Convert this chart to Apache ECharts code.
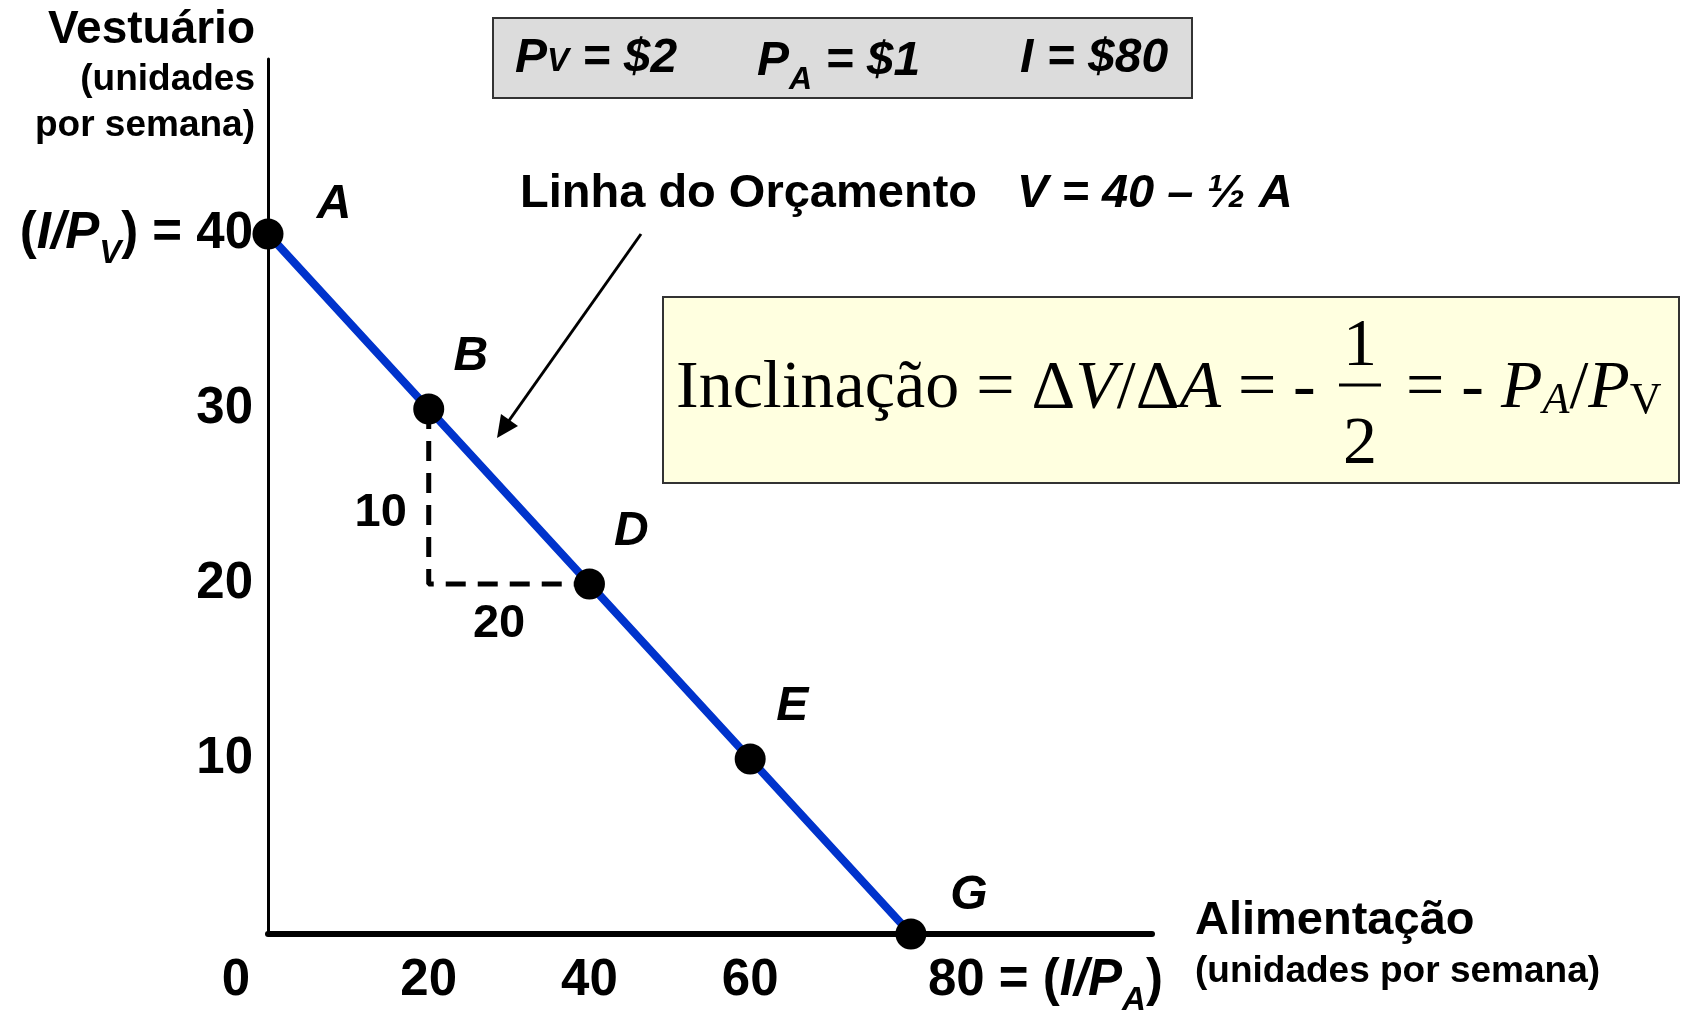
<!DOCTYPE html>
<html>
<head>
    <meta charset="utf-8"/>
    <script src="https://cdn.jsdelivr.net/npm/echarts@6.0.0/dist/echarts.min.js"></script>
    <style>html, body { margin: 0; padding: 0; background: #fff; }</style>
</head>
<body>
<div id="main" style="width: 1683px;height:1011px;"></div>
<script type="text/javascript">
    // pontos da linha do orçamento
    var pointNames = ['A', 'B', 'D', 'E', 'G'];
    var alimentacao = [0, 20, 40, 60, 80];
    var vestuario = [40, 30, 20, 10, 0];
    // triângulo tracejado (ΔV, ΔA)
    var triA = [20, 20, 40];
    var triV = [30, 20, 20];
    var deltaText = ['10', '20'];
    var deltaA = [20, 30];
    var deltaV = [25, 20];
    // ticks
    var xTicks = [0, 20, 40, 60, 80];
    var yTicks = [10, 20, 30, 40];

    var SANS = '"Liberation Sans", Arial, sans-serif';
    var SERIF = '"Liberation Serif", "Times New Roman", serif';

    var myChart = echarts.init(document.getElementById('main'));

    var labelOffset = {A: [66, -29], B: [42, -52], D: [42, -52], E: [42, -52], G: [58, -38]};
    var pointData = pointNames.map(function (n, i) {
        return {
            name: n, value: [alimentacao[i], vestuario[i]],
            label: {offset: labelOffset[n]}
        };
    });
    var lineData = alimentacao.map(function (a, i) { return [a, vestuario[i]]; });
    var triData = triA.map(function (a, i) { return [a, triV[i]]; });
    var deltaOffset = [[-48, 17], [-10, 40]];
    var deltaData = deltaText.map(function (t, i) {
        return {name: t, value: [deltaA[i], deltaV[i]], label: {offset: deltaOffset[i]}};
    });

    var tickRich = {
        n: {fontFamily: SANS, fontWeight: 'bold', fontSize: 51, color: '#000', lineHeight: 52, verticalAlign: 'top'},
        i: {fontFamily: SANS, fontWeight: 'bold', fontStyle: 'italic', fontSize: 51, color: '#000', lineHeight: 52, verticalAlign: 'top'},
        s: {fontFamily: SANS, fontWeight: 'bold', fontStyle: 'italic', fontSize: 33, color: '#000', lineHeight: 33, verticalAlign: 'top', padding: [29, 0, 0, 0]},
        g0: {width: 64, lineHeight: 52},
        g80: {width: 17, lineHeight: 52}
    };

    var option = {
        animation: false,
        backgroundColor: '#fff',
        grid: {left: 268, right: 531, top: 59, bottom: 77, outerBoundsMode: 'none'},
        xAxis: {
            type: 'value', min: 0, max: 110,
            axisLine: {show: true, lineStyle: {color: '#000', width: 6}},
            axisTick: {show: false},
            splitLine: {show: false},
            axisLabel: {
                customValues: xTicks,
                showMinLabel: true,
                showMaxLabel: true,
                alignMaxLabel: 'left',
                margin: 21,
                formatter: function (v) {
                    if (v === 0) return '{n|0}{g0| }';
                    if (v === 80) return '{g80| }{n|80 = (}{i|I/P}{s|A}{n|)}';
                    return '{n|' + v + '}';
                },
                rich: tickRich
            }
        },
        yAxis: {
            type: 'value', min: 0, max: 50,
            axisLine: {show: true, lineStyle: {color: '#000', width: 3}},
            axisTick: {show: false},
            splitLine: {show: false},
            axisLabel: {
                customValues: yTicks,
                showMaxLabel: true,
                margin: 15,
                formatter: function (v) {
                    if (v === 40) return '{n|(}{i|I/P}{s|V}{n|) = 40}';
                    return '{n|' + v + '}';
                },
                rich: tickRich
            }
        },
        series: [{
            type: 'line',
            data: triData,
            showSymbol: false,
            lineStyle: {color: '#000', width: 5, type: [20, 12]},
            z: 2
        }, {
            type: 'scatter',
            data: deltaData,
            symbolSize: 0,
            itemStyle: {opacity: 1},
            label: {
                show: true, position: 'inside', formatter: '{b}',
                fontFamily: SANS, fontWeight: 'bold', fontSize: 47, color: '#000'
            },
            z: 2
        }, {
            type: 'line',
            data: lineData,
            showSymbol: false,
            lineStyle: {color: '#0033cc', width: 8},
            z: 3
        }, {
            type: 'scatter',
            data: pointData,
            symbolSize: 31,
            itemStyle: {color: '#000', opacity: 1},
            label: {
                show: true, position: 'inside', formatter: '{b}',
                fontFamily: SANS, fontWeight: 'bold', fontStyle: 'italic', fontSize: 48, color: '#000'
            },
            z: 4
        }],
        graphic: [
            // nome do eixo vertical
            {type: 'text', x: 255, y: 30, style: {text: 'Vestuário', font: 'bold 46px ' + SANS, fill: '#000', align: 'right', verticalAlign: 'middle'}},
            {type: 'text', x: 255, y: 80, style: {text: '(unidades', font: 'bold 37px ' + SANS, fill: '#000', align: 'right', verticalAlign: 'middle'}},
            {type: 'text', x: 255, y: 126, style: {text: 'por semana)', font: 'bold 37px ' + SANS, fill: '#000', align: 'right', verticalAlign: 'middle'}},
            // nome do eixo horizontal
            {type: 'text', x: 1195, y: 921, style: {text: 'Alimentação', font: 'bold 47px ' + SANS, fill: '#000', align: 'left', verticalAlign: 'middle'}},
            {type: 'text', x: 1195, y: 972, style: {text: '(unidades por semana)', font: 'bold 37px ' + SANS, fill: '#000', align: 'left', verticalAlign: 'middle'}},
            // caixa de preços
            {type: 'rect', shape: {x: 493, y: 18, width: 699, height: 80}, style: {fill: '#dcdcdc', stroke: '#333', lineWidth: 2}},
            {type: 'text', x: 515, y: 59, style: {
                text: '{p|P}{v|V}{t| = $2}', align: 'left', verticalAlign: 'middle',
                rich: {
                    p: {font: 'italic bold 48px ' + SANS, fill: '#000', lineHeight: 48, verticalAlign: 'bottom'},
                    v: {font: 'italic bold 33px ' + SANS, fill: '#000', lineHeight: 33, verticalAlign: 'bottom', padding: [0, 0, 5, 0]},
                    t: {font: 'italic bold 48px ' + SANS, fill: '#000', lineHeight: 48, verticalAlign: 'bottom'}
                }
            }},
            {type: 'text', x: 757, y: 62, style: {
                text: '{p|P}{s|A}{t| = $1}', align: 'left', verticalAlign: 'middle',
                rich: {
                    p: {font: 'italic bold 48px ' + SANS, fill: '#000', lineHeight: 48, verticalAlign: 'top'},
                    s: {font: 'italic bold 32px ' + SANS, fill: '#000', lineHeight: 32, verticalAlign: 'top', padding: [26, 0, 0, 0]},
                    t: {font: 'italic bold 48px ' + SANS, fill: '#000', lineHeight: 48, verticalAlign: 'top'}
                }
            }},
            {type: 'text', x: 1020, y: 59, style: {text: 'I = $80', font: 'italic bold 48px ' + SANS, fill: '#000', align: 'left', verticalAlign: 'middle'}},
            // linha do orçamento
            {type: 'text', x: 520, y: 194, style: {text: 'Linha do Orçamento', font: 'bold 47px ' + SANS, fill: '#000', align: 'left', verticalAlign: 'middle'}},
            {type: 'text', x: 1017, y: 194, style: {text: 'V = 40 – ½ A', font: 'italic bold 47px ' + SANS, fill: '#000', align: 'left', verticalAlign: 'middle'}},
            // seta
            {type: 'line', shape: {x1: 641, y1: 234, x2: 508, y2: 422}, style: {stroke: '#000', lineWidth: 3}},
            {type: 'polygon', shape: {points: [[497, 438], [518, 426], [501, 414]]}, style: {fill: '#000'}},
            // caixa da inclinação
            {type: 'rect', shape: {x: 663, y: 297, width: 1016, height: 186}, style: {fill: '#ffffe0', stroke: '#333', lineWidth: 2}},
            {type: 'text', x: 676, y: 389, style: {
                text: '{r|Inclinação = Δ}{it|V}{r|/Δ}{it|A}{r| =}', align: 'left', verticalAlign: 'middle',
                rich: {
                    r: {font: '68px ' + SERIF, fill: '#000', lineHeight: 68},
                    it: {font: 'italic 68px ' + SERIF, fill: '#000', lineHeight: 68}
                }
            }},
            {type: 'text', x: 1293, y: 389, style: {text: '-', font: '68px ' + SERIF, fill: '#000', align: 'left', verticalAlign: 'middle'}},
            {type: 'text', x: 1360, y: 347, style: {text: '1', font: '68px ' + SERIF, fill: '#000', align: 'center', verticalAlign: 'middle'}},
            {type: 'line', shape: {x1: 1339, y1: 385, x2: 1381, y2: 385}, style: {stroke: '#000', lineWidth: 3}},
            {type: 'text', x: 1360, y: 445, style: {text: '2', font: '68px ' + SERIF, fill: '#000', align: 'center', verticalAlign: 'middle'}},
            {type: 'text', x: 1406, y: 389, style: {
                text: '{r|= - }{it|P}{sa|A}{r|/}{it|P}{sv|V}', align: 'left', verticalAlign: 'middle',
                rich: {
                    r: {font: '68px ' + SERIF, fill: '#000', lineHeight: 68, verticalAlign: 'bottom'},
                    it: {font: 'italic 68px ' + SERIF, fill: '#000', lineHeight: 68, verticalAlign: 'bottom'},
                    sa: {font: 'italic 44px ' + SERIF, fill: '#000', lineHeight: 44, verticalAlign: 'bottom'},
                    sv: {font: '44px ' + SERIF, fill: '#000', lineHeight: 44, verticalAlign: 'bottom'}
                }
            }}
        ]
    };

    myChart.setOption(option);
</script>
</body>
</html>
